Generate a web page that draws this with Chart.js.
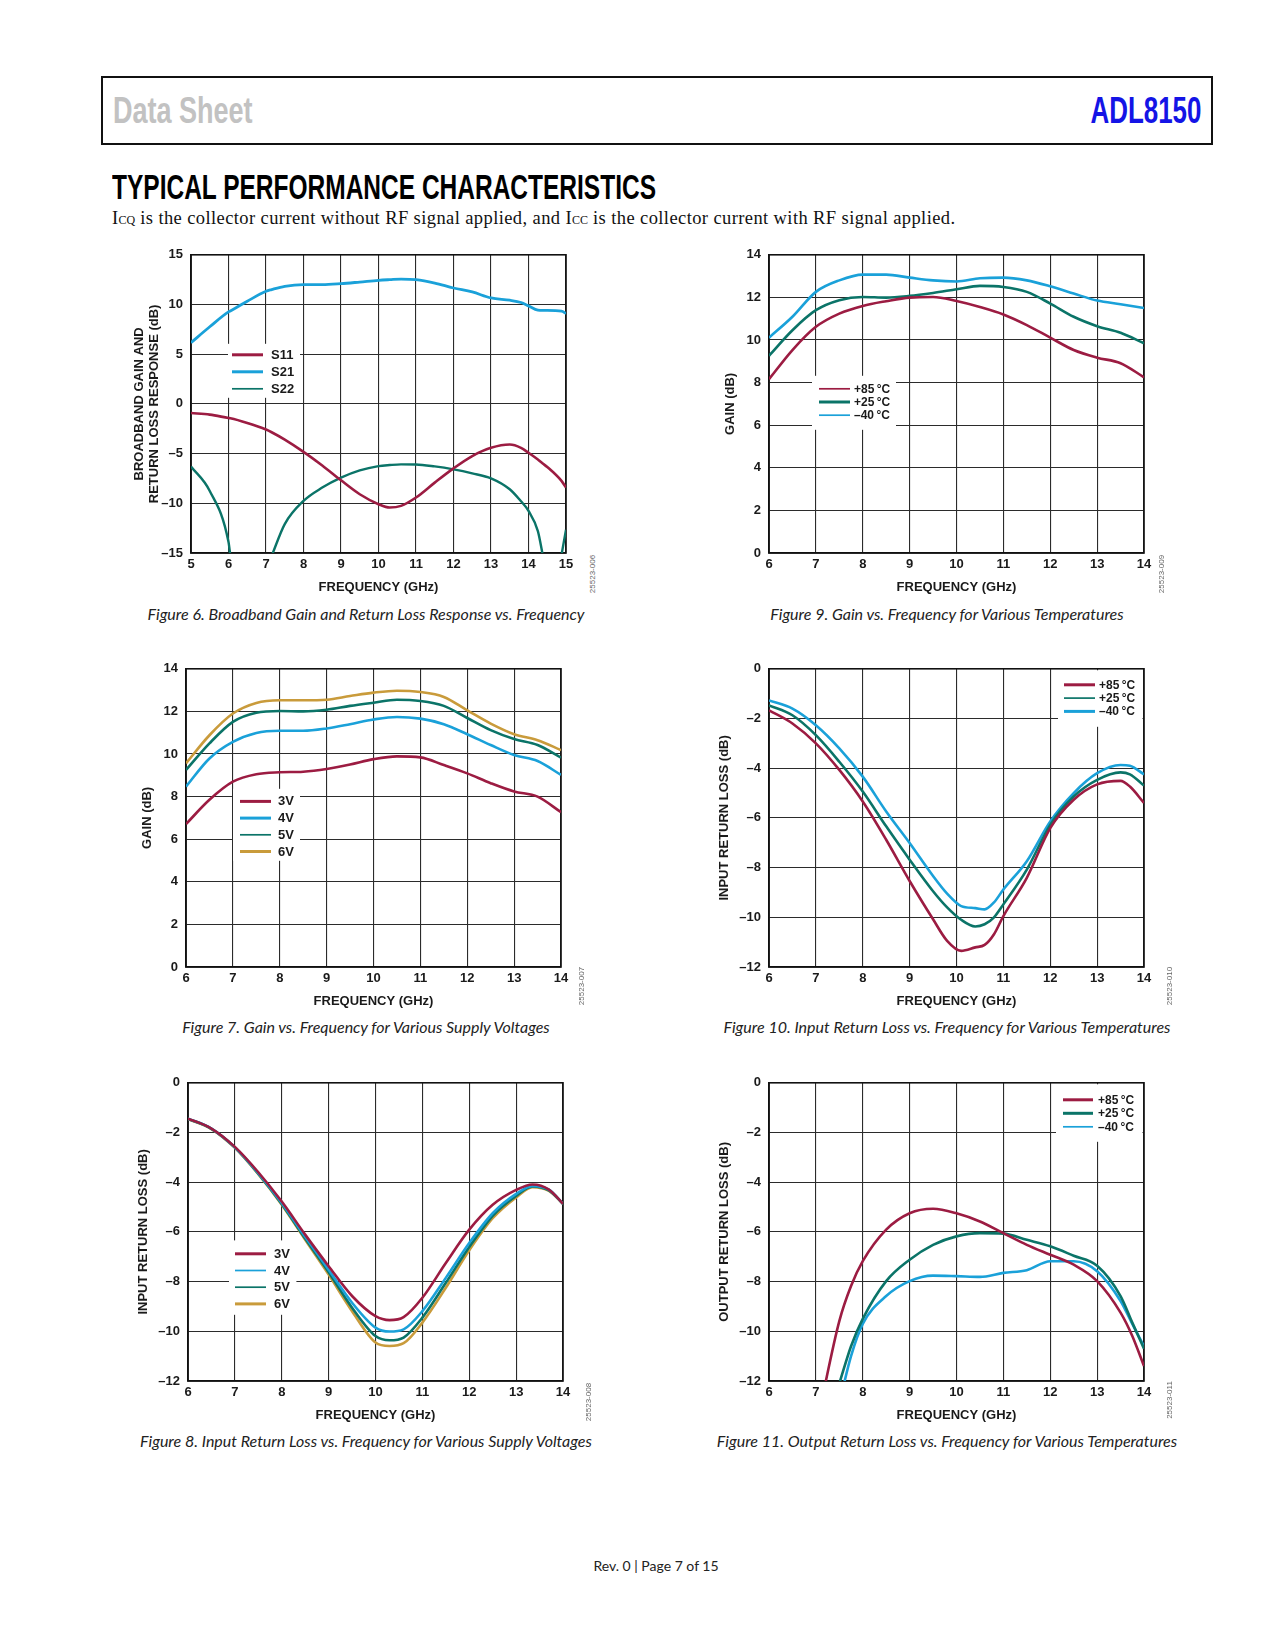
<!DOCTYPE html>
<html lang="en">
<head>
  <meta charset="UTF-8" />
  <title>ADL8150 - Typical Performance Characteristics</title>
  <style>
    body { margin: 0; background: #fff; }
    #page { position: relative; width: 1275px; height: 1650px; overflow: hidden; font-family: "Liberation Sans", Arial, sans-serif; }
    .abs { position: absolute; white-space: nowrap; }
    .header { position: absolute; left: 101px; top: 76px; width: 1112px; height: 69px; box-sizing: border-box; border: 2px solid #111; }
    .ds { position: absolute; left: 10px; top: 14px; font: bold 37px/37px "Liberation Sans", Arial, sans-serif; color: #c2c2c2; transform: scaleX(0.73); transform-origin: left center; }
    .part { position: absolute; right: 10px; top: 14px; font: bold 37px/37px "Liberation Sans", Arial, sans-serif; color: #1414e6; transform: scaleX(0.70); transform-origin: right center; }
    .section { left: 112px; top: 169px; margin: 0; font: bold 35px/35px "Liberation Sans", Arial, sans-serif; color: #000; transform: scaleX(0.70); transform-origin: left center; }
    .intro { left: 112px; top: 207px; margin: 0; font: 18.5px/22px "Liberation Serif", "Times New Roman", serif; letter-spacing: 0.4px; color: #111; }
    .intro .sub { font-size: 12px; letter-spacing: 0; }
    .caption { font: italic 16px/18px Lato, "Open Sans", sans-serif; color: #222; transform: translate(-50%, -50%); }
    .code { font: 8px/8px "Liberation Sans", Arial, sans-serif; color: #666; transform: translate(-50%, -50%) rotate(-90deg); }
    .footer { font: 14px/16px Lato, "Open Sans", sans-serif; color: #222; transform: translate(-50%, -50%); }
    canvas { position: absolute; }
  </style>
</head>
<body>
<div id="page">
  <div class="header">
    <span class="ds">Data Sheet</span>
    <span class="part">ADL8150</span>
  </div>
  <h1 class="abs section">TYPICAL PERFORMANCE CHARACTERISTICS</h1>
  <p class="abs intro">I<span class="sub">CQ</span> is the collector current without RF signal applied, and I<span class="sub">CC</span> is the collector current with RF signal applied.</p>

  <canvas id="fig6" width="467" height="364"></canvas>
  <canvas id="fig9" width="467" height="364"></canvas>
  <canvas id="fig7" width="467" height="364"></canvas>
  <canvas id="fig10" width="467" height="364"></canvas>
  <canvas id="fig8" width="467" height="364"></canvas>
  <canvas id="fig11" width="467" height="364"></canvas>

  <div class="abs caption" style="left:366px; top:614px;">Figure 6. Broadband Gain and Return Loss Response vs. Frequency</div>
  <div class="abs caption" style="left:947px; top:614px;">Figure 9. Gain vs. Frequency for Various Temperatures</div>
  <div class="abs caption" style="left:366px; top:1027px;">Figure 7. Gain vs. Frequency for Various Supply Voltages</div>
  <div class="abs caption" style="left:947px; top:1027px;">Figure 10. Input Return Loss vs. Frequency for Various Temperatures</div>
  <div class="abs caption" style="left:366px; top:1441px;">Figure 8. Input Return Loss vs. Frequency for Various Supply Voltages</div>
  <div class="abs caption" style="left:947px; top:1441px;">Figure 11. Output Return Loss vs. Frequency for Various Temperatures</div>

  <div class="abs code" style="left:593px; top:574px;">25523-006</div>
  <div class="abs code" style="left:1162px; top:574px;">25523-009</div>
  <div class="abs code" style="left:582px; top:986px;">25523-007</div>
  <div class="abs code" style="left:1170px; top:986px;">25523-010</div>
  <div class="abs code" style="left:589px; top:1402px;">25523-008</div>
  <div class="abs code" style="left:1170px; top:1400px;">25523-011</div>

  <div class="abs footer" style="left:656px; top:1566px;">Rev. 0 | Page 7 of 15</div>
</div>

<script src="https://cdn.jsdelivr.net/npm/chart.js"></script>
<script>
// ---- Figure 6: broadband S-parameters (dB) ----
const fig6Freq = [5, 5.5, 6, 6.05, 6.5, 7, 7.15, 7.5, 8, 8.5, 9, 9.5, 10, 10.3, 10.6, 11, 11.5, 12, 12.5, 13, 13.5, 13.8, 14, 14.25, 14.38, 14.5, 14.88, 15];
const fig6S11 = [-0.92, -1.08, -1.42, -1.45, -1.92, -2.58, -2.85, -3.59, -4.82, -6.19, -7.69, -9.09, -10.09, -10.43, -10.26, -9.42, -7.92, -6.49, -5.25, -4.42, -4.09, -4.42, -4.92, -5.6, -6.0, -6.35, -7.75, -8.42];
const fig6S21 = [6.16, 7.76, 9.26, 9.35, 10.33, 11.33, 11.5, 11.83, 12.0, 12.0, 12.1, 12.26, 12.43, 12.5, 12.56, 12.5, 12.16, 11.66, 11.26, 10.66, 10.43, 10.2, 9.86, 9.43, 9.4, 9.4, 9.33, 9.1];
const fig6S22 = [-6.3, -8.76, -13.9, -15.3, null, null, -15.3, -12.09, -9.76, -8.42, -7.42, -6.69, -6.26, -6.15, -6.08, -6.09, -6.29, -6.59, -6.99, -7.49, -8.59, -9.8, -10.76, -12.8, -15.2, null, -15.2, -12.66];
const fig6XTicks = [5, 6, 7, 8, 9, 10, 11, 12, 13, 14, 15];
const fig6YTicks = [-15, -10, -5, 0, 5, 10, 15];

// ---- Figure 9: gain vs temperature (dB) ----
const fig9Freq = [6, 6.5, 7, 7.5, 8, 8.5, 9, 9.5, 10, 10.5, 11, 11.5, 12, 12.5, 13, 13.5, 14];
const fig9Hot = [8.16, 9.53, 10.62, 11.24, 11.6, 11.82, 11.99, 12.02, 11.83, 11.55, 11.2, 10.7, 10.11, 9.53, 9.17, 8.91, 8.25];
const fig9Room = [9.26, 10.46, 11.4, 11.87, 12.02, 11.99, 12.07, 12.21, 12.38, 12.54, 12.49, 12.26, 11.71, 11.09, 10.65, 10.34, 9.85];
const fig9Cold = [10.11, 11.09, 12.26, 12.8, 13.07, 13.07, 12.93, 12.8, 12.75, 12.9, 12.93, 12.8, 12.52, 12.18, 11.85, 11.68, 11.5];

// ---- Figure 7: gain vs supply voltage (dB) ----
const fig7Freq = [6, 6.5, 7, 7.5, 8, 8.5, 9, 9.5, 10, 10.5, 11, 11.5, 12, 12.5, 13, 13.5, 14];
const fig7V3 = [6.71, 7.85, 8.7, 9.05, 9.14, 9.17, 9.3, 9.51, 9.76, 9.89, 9.84, 9.48, 9.09, 8.63, 8.24, 8.0, 7.27];
const fig7V4 = [8.47, 9.79, 10.57, 10.99, 11.09, 11.09, 11.2, 11.4, 11.62, 11.74, 11.66, 11.4, 10.93, 10.42, 9.95, 9.67, 9.02];
const fig7V5 = [9.25, 10.5, 11.51, 11.94, 12.02, 12.0, 12.08, 12.26, 12.41, 12.55, 12.49, 12.26, 11.69, 11.12, 10.7, 10.42, 9.83];
const fig7V6 = [9.56, 10.88, 11.9, 12.4, 12.52, 12.52, 12.55, 12.72, 12.88, 12.97, 12.91, 12.68, 12.05, 11.43, 10.93, 10.65, 10.18];
const gainXTicks = [6, 7, 8, 9, 10, 11, 12, 13, 14];
const gainYTicks = [0, 2, 4, 6, 8, 10, 12, 14];

// ---- Figure 10: input return loss vs temperature (dB) ----
const fig10Freq = [6, 6.5, 7, 7.5, 8, 8.5, 9, 9.5, 9.8, 10.1, 10.4, 10.6, 10.8, 11, 11.5, 12, 12.5, 13, 13.5, 13.7, 14];
const fig10Hot = [-1.67, -2.2, -3.0, -4.07, -5.34, -6.88, -8.54, -10.08, -10.95, -11.35, -11.21, -11.11, -10.68, -9.95, -8.41, -6.41, -5.27, -4.65, -4.51, -4.74, -5.4];
const fig10Room = [-1.47, -1.87, -2.67, -3.74, -4.94, -6.34, -7.68, -8.95, -9.6, -10.1, -10.37, -10.28, -10.0, -9.48, -8.08, -6.28, -5.14, -4.47, -4.17, -4.25, -4.7];
const fig10Cold = [-1.27, -1.6, -2.27, -3.2, -4.34, -5.74, -7.01, -8.34, -9.05, -9.55, -9.63, -9.68, -9.4, -8.88, -7.74, -6.14, -5.0, -4.2, -3.87, -3.9, -4.25];

// ---- Figure 8: input return loss vs supply voltage (dB) ----
const fig8Freq = [6, 6.5, 7, 7.5, 8, 8.5, 9, 9.5, 10, 10.3, 10.6, 11, 11.5, 12, 12.5, 13, 13.35, 13.7, 14];
const fig8V3 = [-1.44, -1.84, -2.58, -3.6, -4.78, -6.11, -7.38, -8.58, -9.39, -9.55, -9.43, -8.65, -7.25, -5.91, -4.91, -4.31, -4.09, -4.3, -4.87];
const fig8V4 = [-1.44, -1.84, -2.6, -3.64, -4.84, -6.2, -7.52, -8.85, -9.85, -10.01, -9.92, -9.19, -7.85, -6.45, -5.25, -4.47, -4.15, -4.3, -4.87];
const fig8V5 = [-1.45, -1.85, -2.6, -3.66, -4.88, -6.27, -7.62, -9.05, -10.19, -10.36, -10.25, -9.45, -8.05, -6.61, -5.35, -4.55, -4.17, -4.33, -4.87];
const fig8V6 = [-1.46, -1.86, -2.62, -3.68, -4.91, -6.32, -7.72, -9.19, -10.45, -10.59, -10.48, -9.65, -8.25, -6.74, -5.45, -4.61, -4.2, -4.35, -4.87];
const lossYTicks = [-12, -10, -8, -6, -4, -2, 0];

// ---- Figure 11: output return loss vs temperature (dB) ----
const fig11Freq = [7.1, 7.5, 7.75, 8, 8.5, 9, 9.5, 10, 10.5, 11, 11.5, 12, 12.5, 13, 13.5, 13.75, 14];
const fig11Hot = [-13.0, -9.59, -8.18, -7.18, -5.91, -5.25, -5.07, -5.25, -5.58, -6.05, -6.52, -6.92, -7.32, -7.98, -9.25, -10.19, -11.4];
const fig11Room = [null, -12.1, -10.6, -9.5, -7.98, -7.12, -6.52, -6.18, -6.05, -6.07, -6.32, -6.58, -6.96, -7.36, -8.58, -9.65, -10.7];
const fig11Cold = [null, -12.9, -11.0, -9.7, -8.58, -7.98, -7.76, -7.78, -7.81, -7.65, -7.54, -7.18, -7.18, -7.58, -8.78, -9.7, -10.6];

const MAROON = '#9c1c42';
const BLUE = '#1aa1d9';
const TEAL = '#0b7468';
const GOLD = '#c99b3b';
const INK = '#1a1a1a';

Chart.defaults.font.family = '"Liberation Sans", Arial, sans-serif';
Chart.defaults.color = INK;

// legend drawn inside the plot on a white patch, plus the plot frame on top of the grid
const insideLegend = {
  id: 'insideLegend',
  beforeDatasetsDraw(chart, args, opts) {
    const ctx = chart.ctx;
    const a = chart.chartArea;
    const b = opts.box;
    ctx.save();
    const x0 = Math.max(a.left + 1.5, a.left + b[0]);
    const y0 = Math.max(a.top + 1.5, a.top + b[1]);
    const x1 = Math.min(a.right - 1.5, a.left + b[2]);
    const y1 = Math.min(a.bottom - 1.5, a.top + b[3]);
    ctx.fillStyle = '#fff';
    ctx.fillRect(x0, y0, x1 - x0, y1 - y0);
    ctx.font = 'bold ' + opts.fontSize + 'px "Liberation Sans", Arial, sans-serif';
    ctx.textBaseline = 'middle';
    ctx.textAlign = 'left';
    chart.data.datasets.forEach((ds, i) => {
      const y = a.top + opts.firstRow + i * opts.rowGap;
      ctx.strokeStyle = ds.borderColor;
      ctx.lineWidth = ds.legendWidth;
      ctx.beginPath();
      ctx.moveTo(a.left + opts.lineX, y);
      ctx.lineTo(a.left + opts.lineX + opts.lineLen, y);
      ctx.stroke();
      ctx.fillStyle = INK;
      ctx.fillText(ds.label, a.left + opts.textX, y + 0.5);
    });
    ctx.strokeStyle = '#111';
    ctx.lineWidth = 1.6;
    ctx.strokeRect(a.left, a.top, a.right - a.left, a.bottom - a.top);
    ctx.restore();
  }
};

const dash = v => String(v).replace('-', '\u2013');

function drawFigure(id, plotLeft, plotTop, cfg) {
  const canvas = document.getElementById(id);
  canvas.style.left = (plotLeft - 70) + 'px';
  canvas.style.top = (plotTop - 14) + 'px';
  canvas.style.width = '467px';
  canvas.style.height = '364px';

  const datasets = cfg.series.map(s => ({
    label: s.label,
    data: cfg.freq.map((f, i) => ({ x: f, y: s.values[i] })),
    borderColor: s.color,
    backgroundColor: s.color,
    borderWidth: s.width || 2.6,
    legendWidth: s.legendWidth,
    pointRadius: 0,
    cubicInterpolationMode: 'monotone',
    spanGaps: false
  }));

  new Chart(canvas, {
    type: 'line',
    data: { datasets },
    plugins: [insideLegend],
    options: {
      responsive: false,
      animation: false,
      events: [],
      layout: { padding: { left: 0, top: 14, right: 22, bottom: 0 } },
      plugins: {
        legend: { display: false },
        tooltip: { enabled: false },
        insideLegend: cfg.legend
      },
      scales: {
        x: {
          type: 'linear',
          min: cfg.xTicks[0],
          max: cfg.xTicks[cfg.xTicks.length - 1],
          afterBuildTicks: s => { s.ticks = cfg.xTicks.map(v => ({ value: v })); },
          afterFit: s => { s.height = 50; },
          ticks: { autoSkip: false, maxRotation: 0, padding: 4, color: INK, font: { size: 13, weight: 'bold' } },
          grid: { color: '#2b2b2b', lineWidth: 1.1, drawTicks: false },
          border: { color: '#111', width: 1.6 },
          title: { display: true, text: 'FREQUENCY (GHz)', color: INK, font: { size: 13, weight: 'bold' }, padding: { top: 0, bottom: 7.7 } }
        },
        y: {
          type: 'linear',
          min: cfg.yTicks[0],
          max: cfg.yTicks[cfg.yTicks.length - 1],
          afterBuildTicks: s => { s.ticks = cfg.yTicks.map(v => ({ value: v })); },
          afterFit: s => { s.width = 70; },
          ticks: { padding: 8, color: INK, font: { size: 13, weight: 'bold' }, callback: dash },
          grid: { color: '#2b2b2b', lineWidth: 1.1, drawTicks: false },
          border: { color: '#111', width: 1.6 },
          title: { display: true, text: cfg.yTitle, color: INK, font: { size: 13, weight: 'bold', lineHeight: 1.15 }, padding: { top: cfg.yTitlePad, bottom: 0 } }
        }
      }
    }
  });
}

drawFigure('fig6', 191, 253, {
  freq: fig6Freq, xTicks: fig6XTicks, yTicks: fig6YTicks,
  yTitle: ['BROADBAND GAIN AND', 'RETURN LOSS RESPONSE (dB)'], yTitlePad: 11,
  series: [
    { label: 'S11', values: fig6S11, color: MAROON, legendWidth: 3 },
    { label: 'S21', values: fig6S21, color: BLUE, legendWidth: 3, width: 2.8 },
    { label: 'S22', values: fig6S22, color: TEAL, legendWidth: 1.7, width: 2.4 }
  ],
  legend: { box: [37, 89, 109, 143], firstRow: 100, rowGap: 17, lineX: 41, lineLen: 31, textX: 80, fontSize: 13 }
});

drawFigure('fig9', 769, 253, {
  freq: fig9Freq, xTicks: gainXTicks, yTicks: gainYTicks,
  yTitle: 'GAIN (dB)', yTitlePad: 23.5,
  series: [
    { label: '+85\u2009°C', values: fig9Hot, color: MAROON, legendWidth: 1.7 },
    { label: '+25\u2009°C', values: fig9Room, color: TEAL, legendWidth: 3 },
    { label: '\u201340\u2009°C', values: fig9Cold, color: BLUE, legendWidth: 1.7 }
  ],
  legend: { box: [43, 121, 127, 175], firstRow: 134, rowGap: 13.2, lineX: 50, lineLen: 31, textX: 85, fontSize: 12 }
});

drawFigure('fig7', 186, 667, {
  freq: fig7Freq, xTicks: gainXTicks, yTicks: gainYTicks,
  yTitle: 'GAIN (dB)', yTitlePad: 24,
  series: [
    { label: '3V', values: fig7V3, color: MAROON, legendWidth: 3 },
    { label: '4V', values: fig7V4, color: BLUE, legendWidth: 3 },
    { label: '5V', values: fig7V5, color: TEAL, legendWidth: 1.7 },
    { label: '6V', values: fig7V6, color: GOLD, legendWidth: 3 }
  ],
  legend: { box: [47, 120, 114, 192], firstRow: 132.6, rowGap: 16.7, lineX: 54, lineLen: 31, textX: 92, fontSize: 13 }
});

drawFigure('fig10', 769, 667, {
  freq: fig10Freq, xTicks: gainXTicks, yTicks: lossYTicks,
  yTitle: 'INPUT RETURN LOSS (dB)', yTitlePad: 18,
  series: [
    { label: '+85\u2009°C', values: fig10Hot, color: MAROON, legendWidth: 3 },
    { label: '+25\u2009°C', values: fig10Room, color: TEAL, legendWidth: 1.7 },
    { label: '\u201340\u2009°C', values: fig10Cold, color: BLUE, legendWidth: 3 }
  ],
  legend: { box: [289, 0, 375, 58], firstRow: 16, rowGap: 13.3, lineX: 295, lineLen: 31, textX: 330, fontSize: 12 }
});

drawFigure('fig8', 188, 1081, {
  freq: fig8Freq, xTicks: gainXTicks, yTicks: lossYTicks,
  yTitle: 'INPUT RETURN LOSS (dB)', yTitlePad: 17.7,
  series: [
    { label: '3V', values: fig8V3, color: MAROON, legendWidth: 3 },
    { label: '4V', values: fig8V4, color: BLUE, legendWidth: 1.7 },
    { label: '5V', values: fig8V5, color: TEAL, legendWidth: 1.7 },
    { label: '6V', values: fig8V6, color: GOLD, legendWidth: 3 }
  ],
  legend: { box: [41, 157.6, 108.4, 232], firstRow: 171, rowGap: 16.7, lineX: 47, lineLen: 31, textX: 86, fontSize: 13 }
});

drawFigure('fig11', 769, 1081, {
  freq: fig11Freq, xTicks: gainXTicks, yTicks: lossYTicks,
  yTitle: 'OUTPUT RETURN LOSS (dB)', yTitlePad: 18,
  series: [
    { label: '+85\u2009°C', values: fig11Hot, color: MAROON, legendWidth: 3 },
    { label: '+25\u2009°C', values: fig11Room, color: TEAL, legendWidth: 3 },
    { label: '\u201340\u2009°C', values: fig11Cold, color: BLUE, legendWidth: 1.7 }
  ],
  legend: { box: [287, 0, 375, 59], firstRow: 17, rowGap: 13.5, lineX: 294, lineLen: 30, textX: 329, fontSize: 12 }
});
</script>
</body>
</html>
